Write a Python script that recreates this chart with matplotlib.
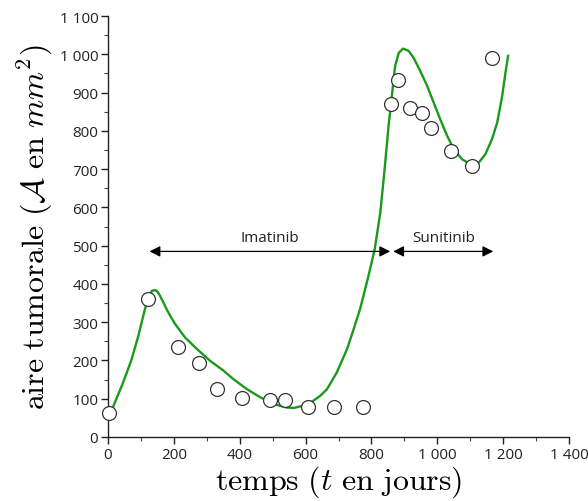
import matplotlib
matplotlib.use("Agg")
import matplotlib.pyplot as plt
from matplotlib.ticker import MultipleLocator, FuncFormatter

plt.rcParams["mathtext.fontset"] = "cm"

# Observed tumour area (circles)
obs_t = [3, 122, 213, 277, 331, 407, 492, 538, 608, 687, 775,
         860, 882, 918, 955, 982, 1043, 1106, 1167]
obs_a = [63, 360, 235, 193, 125, 102, 97, 97, 78, 78, 78,
         870, 932, 859, 846, 807, 747, 708, 990]

# Model curve (green)
model_t = [0, 11, 25, 42, 57, 72, 92, 112, 126, 133, 143, 150, 158, 168, 178,
           190, 204, 234, 270, 310, 350, 381, 422, 462, 503, 543, 565, 584,
           604, 624, 645, 665, 695, 726, 746, 766, 791, 810, 827, 839, 852,
           862, 872, 883, 896, 913, 928, 948, 969, 989, 1009, 1030, 1050,
           1075, 1100, 1126, 1146, 1166, 1182, 1197, 1207, 1215]
model_a = [62, 69, 99, 134, 168, 204, 264, 334, 369, 382, 384, 380, 369, 352,
           334, 315, 295, 260, 230, 199, 174, 151, 125, 104, 86, 77, 76, 80,
           86, 95, 108, 125, 169, 230, 282, 336, 421, 491, 587, 691, 813,
           891, 970, 1004, 1015, 1009, 991, 957, 918, 874, 830, 787, 752,
           726, 713, 717, 739, 778, 822, 891, 952, 996]

# Treatment periods
treat_names = ["Imatinib", "Sunitinib"]
treat_start = [126, 866]
treat_end = [857, 1170]
treat_level = 485

fig = plt.figure(figsize=(5.88, 5.02), dpi=100)
ax = fig.add_axes([0.1837, 0.1275, 0.7840, 0.8385])

ax.plot(model_t, model_a, color="#1a9a1a", lw=1.7, zorder=2, clip_on=False,
        solid_joinstyle="round")
ax.plot(obs_t, obs_a, "o", ms=10, mfc="white", mec="#333333", mew=0.9,
        zorder=3, clip_on=False)

for name, s, e in zip(treat_names, treat_start, treat_end):
    ax.annotate("", xy=(e, treat_level), xytext=(s, treat_level),
                arrowprops=dict(arrowstyle="<|-|>", color="black", lw=0.9,
                                mutation_scale=16, shrinkA=0, shrinkB=0))
    ax.text((s + e) / 2, treat_level + 18, name, ha="center", va="bottom",
            fontsize=11, family="Open Sans", color="#222222")

ax.set_xlim(0, 1400)
ax.set_ylim(0, 1100)
for sp in ["top", "right"]:
    ax.spines[sp].set_visible(False)
for sp in ["left", "bottom"]:
    ax.spines[sp].set_linewidth(1.0)
    ax.spines[sp].set_color("#222222")

ax.xaxis.set_major_locator(MultipleLocator(200))
ax.xaxis.set_minor_locator(MultipleLocator(100))
ax.yaxis.set_major_locator(MultipleLocator(100))
ax.yaxis.set_minor_locator(MultipleLocator(50))

fmt = FuncFormatter(lambda v, p: f"{int(round(v)):,}".replace(",", " "))
ax.xaxis.set_major_formatter(fmt)
ax.yaxis.set_major_formatter(fmt)
ax.tick_params(which="major", direction="out", length=5, width=1,
               labelsize=11, colors="#222222", pad=2)
ax.tick_params(which="minor", direction="out", length=3, width=0.8,
               colors="#444444")
for lab in ax.get_xticklabels() + ax.get_yticklabels():
    lab.set_family("Open Sans")

ax.set_xlabel(r"$\mathrm{temps\ (}t\mathrm{\ en\ jours)}$", fontsize=23,
              labelpad=1)
ax.set_ylabel(r"$\mathrm{aire\ tumorale\ (}\mathcal{A}\mathrm{\ en\ }mm^2\mathrm{)}$",
              fontsize=23, labelpad=3)

fig.savefig("out.png", dpi=100)
